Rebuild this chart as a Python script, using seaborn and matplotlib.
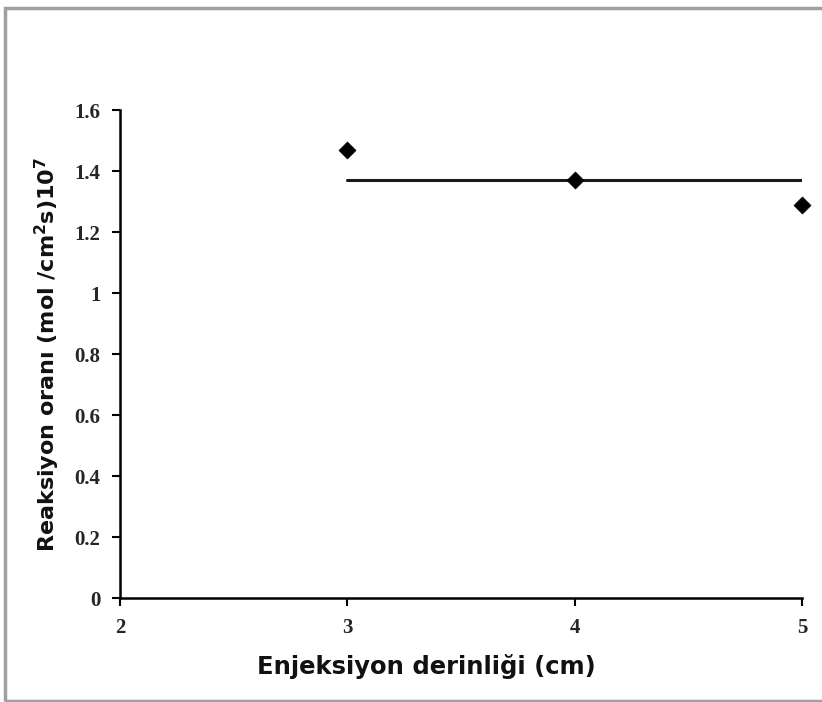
import matplotlib
matplotlib.use("Agg")
import matplotlib.pyplot as plt
import seaborn as sns
import pandas as pd
from matplotlib.patches import Rectangle

depth_cm = [3, 4, 5]
reaction_rate = [1.47, 1.37, 1.29]
trend_x = [3, 5]
trend_level = 1.37
x_ticks = [2, 3, 4, 5]
y_ticks = [0, 0.2, 0.4, 0.6, 0.8, 1, 1.2, 1.4, 1.6]
y_tick_labels = ["0", "0.2", "0.4", "0.6", "0.8", "1", "1.2", "1.4", "1.6"]

sns.set_style("white")
fig = plt.figure(figsize=(8.22, 7.02), dpi=100)
ax = fig.add_axes([0.146, 0.148, 0.830, 0.695])

df = pd.DataFrame({"x": depth_cm, "y": reaction_rate})
trend = pd.DataFrame({"x": trend_x, "y": [trend_level] * len(trend_x)})
sns.lineplot(data=trend, x="x", y="y", ax=ax, color="#1a1a1a", linewidth=2.2)
sns.scatterplot(data=df, x="x", y="y", ax=ax, marker="D", s=75, color="black",
                edgecolor="black", linewidth=0.5, zorder=5, clip_on=False)

ax.set_xlim(2, 5)
ax.set_ylim(0, 1.6)
ax.set_xticks(x_ticks)
ax.set_yticks(y_ticks)
ax.set_yticklabels(y_tick_labels)
for lab in ax.get_xticklabels() + ax.get_yticklabels():
    lab.set_fontfamily("Liberation Serif")
    lab.set_fontweight("bold")
    lab.set_fontsize(15)
ax.tick_params(axis="both", direction="out", length=6, width=1.5, color="black",
               left=True, bottom=True, pad=8)
for s in ["top", "right"]:
    ax.spines[s].set_visible(False)
for s in ["left", "bottom"]:
    ax.spines[s].set_color("black")
    ax.spines[s].set_linewidth(1.8)

ax.set_xlabel("Enjeksiyon derinliği (cm)", fontfamily="DejaVu Sans",
              fontweight="bold", fontsize=17.5, color="#111111")
ax.xaxis.set_label_coords(0.449, -0.114)
ax.set_ylabel(r"Reaksiyon oranı (mol /cm$^\mathbf{2}$s)10$^\mathbf{7}$",
              fontfamily="DejaVu Sans", fontweight="bold", fontsize=16, labelpad=9,
              color="#111111")

fig.patches.append(Rectangle((5 / 822, 1 / 702), 1.0, 693 / 702, transform=fig.transFigure,
                             fill=False, edgecolor="#a0a0a0", linewidth=2.5))

fig.savefig("out.png", dpi=100)
